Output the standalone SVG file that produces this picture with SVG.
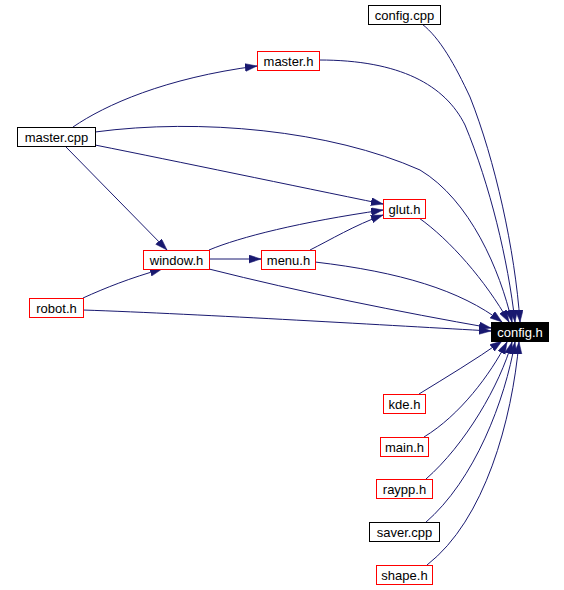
<svg xmlns="http://www.w3.org/2000/svg" width="564" height="590" viewBox="0 0 564 590">
<style>
.n rect{fill:#fff;stroke-width:1}
.r rect{stroke:#ff0000}
.b rect{stroke:#000}
.n text{font-family:"Liberation Sans",Arial,sans-serif;font-size:13px;fill:#000;text-anchor:middle}
.hl rect{fill:#000;stroke:#000}
.hl text{fill:#fff}
#edges path{fill:none;stroke:#191970;stroke-width:1;marker-end:url(#ah)}
</style>
<defs>
<marker id="ah" markerUnits="userSpaceOnUse" markerWidth="13" markerHeight="9" refX="12" refY="4" orient="auto">
<path d="M0,0 L12,4 L0,8 z" fill="#191970" stroke="#191970" stroke-width="0.5"/>
</marker>
</defs>
<rect width="564" height="590" fill="#fff"/>
<g id="edges">
<path d="M73,127 C105,105 165,78 257,66"/>
<path d="M319,60 C400,60 445,85 465,125 C490,185 508,260 515,322"/>
<path d="M422,24 C440,38 455,65 470,97 C495,160 515,250 520,322"/>
<path d="M95,132 C200,118 330,130 420,170 C470,200 500,270 512,322"/>
<path d="M95,145 C180,162 290,185 383,204"/>
<path d="M66,147 L167,250"/>
<path d="M209,250 C240,237 300,222 383,210"/>
<path d="M209,259 L261,259"/>
<path d="M310,250 C330,240 355,225 383,215"/>
<path d="M315,262 C400,272 460,290 502,322"/>
<path d="M209,269 C300,292 400,312 491,328"/>
<path d="M83,298 C105,288 130,278 162,269"/>
<path d="M83,310 C200,314 400,326 491,331"/>
<path d="M419,394 C445,378 475,360 502,341"/>
<path d="M424,437 C460,415 490,375 507,342"/>
<path d="M426,479 C465,445 500,385 512,342"/>
<path d="M425,523 C475,480 505,400 515,342"/>
<path d="M427,565 C485,520 512,420 519,342"/>
<path d="M419,218 C450,240 485,280 509,322"/>
</g>
<g id="config_cpp" class="n b"><rect x="368.5" y="5.5" width="72" height="19"/><text x="404.5" y="19.5">config.cpp</text></g>
<g id="master_h" class="n r"><rect x="257.5" y="51.5" width="62" height="19"/><text x="288.5" y="65.5">master.h</text></g>
<g id="master_cpp" class="n b"><rect x="17.5" y="127.5" width="78" height="19"/><text x="56.5" y="141.5">master.cpp</text></g>
<g id="glut_h" class="n r"><rect x="383.5" y="199.5" width="42" height="19"/><text x="404.5" y="213.5">glut.h</text></g>
<g id="window_h" class="n r"><rect x="143.5" y="250.5" width="66" height="19"/><text x="176.5" y="264.5">window.h</text></g>
<g id="menu_h" class="n r"><rect x="261.5" y="250.5" width="54" height="19"/><text x="288.5" y="264.5">menu.h</text></g>
<g id="robot_h" class="n r"><rect x="29.5" y="298.5" width="54" height="19"/><text x="56.5" y="312.5">robot.h</text></g>
<g id="config_h" class="n hl"><rect x="491.5" y="322.5" width="57" height="19"/><text x="520" y="336.5">config.h</text></g>
<g id="kde_h" class="n r"><rect x="383.5" y="394.5" width="42" height="19"/><text x="404.5" y="408.5">kde.h</text></g>
<g id="main_h" class="n r"><rect x="380.5" y="437.5" width="48" height="19"/><text x="404.5" y="451.5">main.h</text></g>
<g id="raypp_h" class="n r"><rect x="376.5" y="479.5" width="56" height="19"/><text x="404.5" y="493.5">raypp.h</text></g>
<g id="saver_cpp" class="n b"><rect x="369.5" y="522.5" width="70" height="19"/><text x="404.5" y="536.5">saver.cpp</text></g>
<g id="shape_h" class="n r"><rect x="376.5" y="565.5" width="56" height="19"/><text x="404.5" y="579.5">shape.h</text></g>
</svg>
